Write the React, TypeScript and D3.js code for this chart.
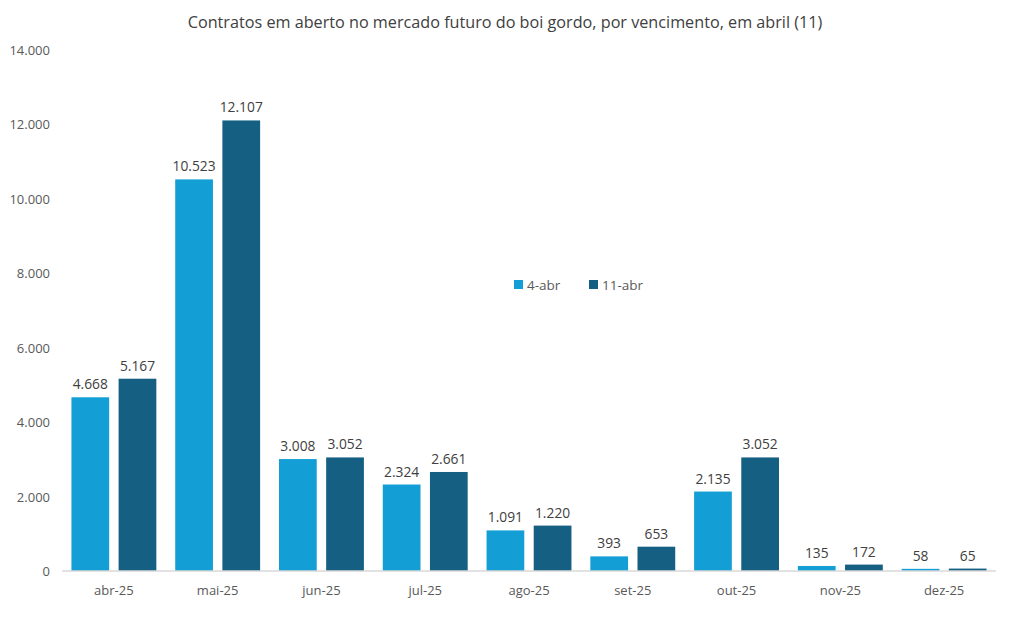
import React from 'react';
import * as d3 from 'd3';

const categories = ['abr-25', 'mai-25', 'jun-25', 'jul-25', 'ago-25', 'set-25', 'out-25', 'nov-25', 'dez-25'];
const seriesNames = ['4-abr', '11-abr'];
const abr4 = [4668, 10523, 3008, 2324, 1091, 393, 2135, 135, 58];
const abr11 = [5167, 12107, 3052, 2661, 1220, 653, 3052, 172, 65];
const yTicks = [0, 2000, 4000, 6000, 8000, 10000, 12000, 14000];

const colors = ['#139FD6', '#155F83'];
const font = '"Open Sans", sans-serif';

const fmt = (v: number) => d3.format(',')(v).replace(/,/g, '.');

const App = () => {
  const width = 1012;
  const height = 629;
  const margin = { top: 50, right: 16, bottom: 58, left: 62 };

  const x = d3.scaleBand<string>()
    .domain(categories)
    .range([margin.left, width - margin.right])
    .padding(0);

  const xSub = d3.scaleBand<string>()
    .domain(seriesNames)
    .range([0, x.bandwidth()])
    .paddingInner(0.2)
    .paddingOuter(0.2);

  const y = d3.scaleLinear()
    .domain([0, 14000])
    .range([height - margin.bottom, margin.top]);

  const series = [abr4, abr11];

  return (
    <svg width={width} height={height} style={{ position: 'absolute', left: 0, top: 0 }}>
      <rect width={width} height={height} fill="#fff" />
      <text x={505} y={28} textAnchor="middle" fontFamily={font} fontSize={16.2} fill="#404040">
        Contratos em aberto no mercado futuro do boi gordo, por vencimento, em abril (11)
      </text>

      {yTicks.map((t) => (
        <text key={t} x={50} y={y(t) + 5} textAnchor="end" fontFamily={font} fontSize={13} fill="#595959">
          {fmt(t)}
        </text>
      ))}

      {series.map((vals, si) =>
        categories.map((c, i) => {
          const bx = (x(c) ?? 0) + (xSub(seriesNames[si]) ?? 0);
          const by = y(vals[i]);
          return (
            <g key={`${si}-${c}`}>
              <rect x={bx} y={by} width={xSub.bandwidth()} height={y(0) - by} fill={colors[si]} />
              <text x={bx + xSub.bandwidth() / 2} y={by - 8} textAnchor="middle" fontFamily={font} fontSize={13.8} fill="#404040">
                {fmt(vals[i])}
              </text>
            </g>
          );
        })
      )}

      <line x1={margin.left} x2={width - margin.right} y1={y(0)} y2={y(0)} stroke="#D9D9D9" strokeWidth={1.5} />

      {categories.map((c) => (
        <text key={c} x={(x(c) ?? 0) + x.bandwidth() / 2} y={595} textAnchor="middle" fontFamily={font} fontSize={13} fill="#595959">
          {c}
        </text>
      ))}

      <g fontFamily={font} fontSize={13.5} fill="#595959">
        <rect x={514} y={280} width={9} height={9} fill={colors[0]} />
        <text x={527} y={290}>{seriesNames[0]}</text>
        <rect x={589} y={280} width={9} height={9} fill={colors[1]} />
        <text x={602} y={290}>{seriesNames[1]}</text>
      </g>
    </svg>
  );
};

export default App;
